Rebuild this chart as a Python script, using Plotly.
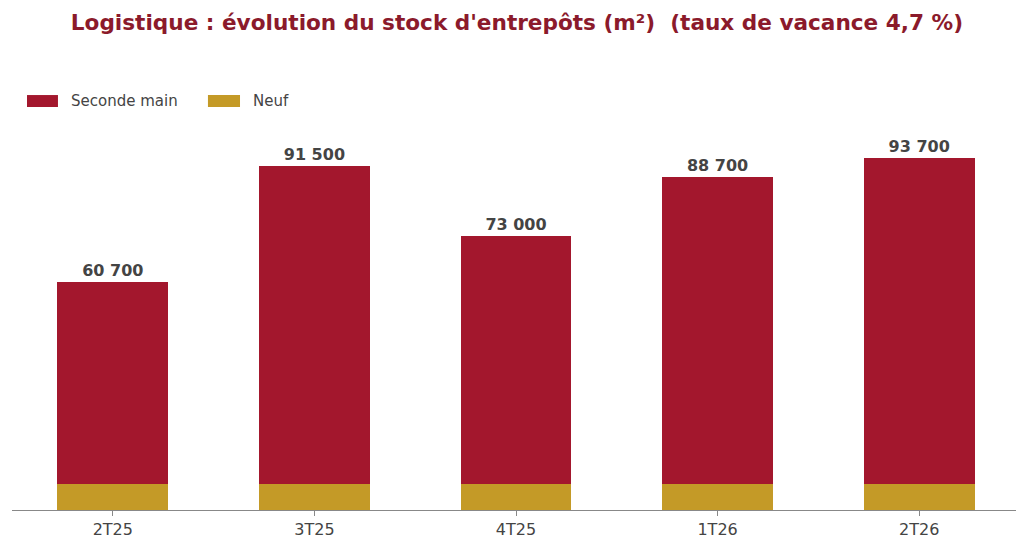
import plotly.graph_objects as go

trimestres = ["2T25", "3T25", "4T25", "1T26", "2T26"]
total = [60700, 91500, 73000, 88700, 93700]
neuf = [6800, 6800, 6800, 6800, 6800]
seconde_main = [t - n for t, n in zip(total, neuf)]
labels = [f"{t:,}".replace(",", " ") for t in total]

ROUGE = "#A3172D"
OR = "#C49A27"

fig = go.Figure()

fig.add_trace(go.Bar(
    x=trimestres, y=neuf, name="Neuf",
    marker=dict(color=OR, line=dict(width=0)),
    showlegend=False,
))
fig.add_trace(go.Bar(
    x=trimestres, y=seconde_main, name="Seconde main",
    marker=dict(color=ROUGE, line=dict(width=0)),
    showlegend=False,
))
fig.add_trace(go.Scatter(
    x=trimestres, y=total, mode="markers+text", text=labels,
    textposition="top center",
    marker=dict(size=2, opacity=0),
    textfont=dict(family="DejaVu Sans", size=16, color="#444444", weight="bold"),
    showlegend=False, hoverinfo="skip",
))

# légende dessinée à la main (rectangles larges comme dans l'original)
legende = [("Seconde main", ROUGE, 0.0149, 0.0456), ("Neuf", OR, 0.1944, 0.2262)]
for nom, couleur, x0, x1 in legende:
    fig.add_shape(type="rect", xref="paper", yref="paper",
                  x0=x0, x1=x1, y0=1.0605, y1=1.092,
                  fillcolor=couleur, line=dict(width=0))
    fig.add_annotation(xref="paper", yref="paper", x=x1 + 0.0105, y=1.076,
                       text=nom, showarrow=False, xanchor="left", yanchor="middle",
                       font=dict(size=15, color="#444444"))

fig.update_layout(
    width=1024, height=546,
    barmode="stack", bargap=0.45,
    paper_bgcolor="white", plot_bgcolor="white",
    margin=dict(l=4, r=12, t=122, b=44),
    font=dict(family="DejaVu Sans", color="#444444"),
    title=dict(
        text="Logistique : évolution du stock d'entrepôts (m²)  (taux de vacance 4,7 %)",
        x=0.497, xanchor="center", y=0.974, yanchor="middle",
        font=dict(family="DejaVu Sans", size=21.6, color="#8B1A2B", weight="bold"),
    ),
    xaxis=dict(
        showline=True, linecolor="#888888", linewidth=1,
        ticks="outside", ticklen=5, tickcolor="#888888",
        tickfont=dict(size=16, color="#444444"),
    ),
    yaxis=dict(visible=False, range=[0, 101200]),
)

fig.write_html("out.html")
